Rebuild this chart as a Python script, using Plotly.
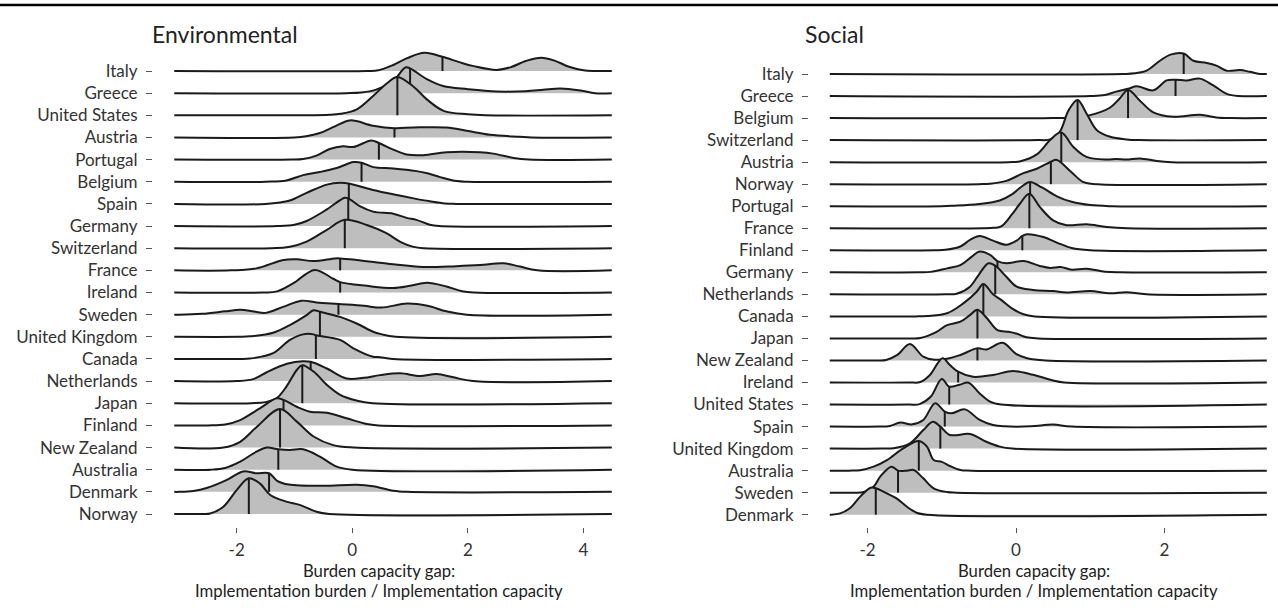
import numpy as np
import plotly.graph_objects as go

# Environmental panel, rows listed top to bottom
env_countries = ["Italy", "Greece", "United States", "Austria", "Portugal", "Belgium", "Spain",
                 "Germany", "Switzerland", "France", "Ireland", "Sweden", "United Kingdom", "Canada",
                 "Netherlands", "Japan", "Finland", "New Zealand", "Australia", "Denmark", "Norway"]
env_medians = [1.56, 1.0, 0.78, 0.73, 0.46, 0.16, -0.06, -0.07, -0.13, -0.21, -0.21, -0.24, -0.56,
               -0.63, -0.72, -0.865, -1.19, -1.25, -1.28, -1.44, -1.79]
env_span = [-3.08, 4.49]
# ridge knots (x, height in row units)
env_ridge_x = [
    [0.25, 0.45, 0.7, 0.95, 1.25, 1.56, 1.85, 2.1, 2.5, 2.75, 3.0, 3.27, 3.5, 3.75, 4.0, 4.2],
    [-0.1, 0.15, 0.4, 0.7, 0.92, 1.0, 1.29, 1.57, 2.0, 2.5, 3.0, 3.3, 3.6, 3.95, 4.2],
    [-0.7, -0.4, -0.2, 0.08, 0.36, 0.6, 0.78, 1.06, 1.29, 1.58, 2.0, 2.3],
    [-1.0, -0.8, -0.56, -0.3, -0.04, 0.36, 0.73, 1.06, 1.63, 1.98, 2.38, 2.9, 3.1],
    [-1.05, -0.85, -0.62, -0.39, -0.16, 0.02, 0.33, 0.46, 0.71, 0.94, 1.23, 1.63, 2.21, 2.44, 2.79, 3.05],
    [-1.5, -1.14, -0.85, -0.56, -0.27, 0.02, 0.16, 0.36, 0.71, 1.11, 1.3, 1.52, 1.81, 2.0],
    [-1.5, -1.08, -0.79, -0.44, -0.21, -0.06, 0.36, 0.77, 1.06, 1.34, 1.6, 1.8],
    [-1.3, -1.0, -0.79, -0.44, -0.13, -0.07, 0.13, 0.36, 0.71, 0.94, 1.11, 1.34, 1.5],
    [-1.4, -1.1, -0.79, -0.44, -0.13, 0.25, 0.59, 0.83, 1.06, 1.25],
    [-2.1, -1.66, -1.19, -0.96, -0.67, -0.3, -0.21, 0.075, 0.65, 1.23, 1.8, 2.21, 2.61, 2.9, 3.2],
    [-1.55, -1.3, -1.02, -0.65, -0.33, -0.21, 0.25, 0.71, 1.0, 1.29, 1.63, 1.9, 2.1],
    [-3.0, -2.6, -2.2, -1.94, -1.7, -1.5, -1.2, -0.88, -0.62, -0.24, 0.2, 0.5, 0.95, 1.3, 1.63, 1.98],
    [-1.95, -1.77, -1.37, -1.08, -0.79, -0.67, -0.56, -0.21, 0.075, 0.36, 0.5, 0.75],
    [-1.95, -1.77, -1.37, -1.08, -0.85, -0.67, -0.63, -0.21, 0.02, 0.36, 0.48, 0.7],
    [-2.0, -1.7, -1.48, -1.13, -0.86, -0.72, -0.44, -0.1, 0.2, 0.48, 0.83, 1.17, 1.46, 1.75, 2.09],
    [-1.75, -1.5, -1.3, -1.14, -0.96, -0.865, -0.67, -0.44, -0.21, 0.075, 0.35],
    [-2.5, -2.2, -1.94, -1.6, -1.31, -1.19, -0.96, -0.73, -0.44, -0.1, 0.25, 0.45],
    [-2.23, -1.94, -1.65, -1.25, -0.96, -0.67, -0.33, 0.02],
    [-2.45, -2.2, -1.94, -1.7, -1.48, -1.28, -1.08, -0.85, -0.56, -0.27, 0.0],
    [-3.0, -2.75, -2.52, -2.17, -1.89, -1.66, -1.44, -1.3, -1.1, -0.5, 0.075, 0.36, 0.71, 0.95],
    [-2.6, -2.46, -2.23, -2.0, -1.79, -1.6, -1.42, -1.14, -0.91, -0.62, -0.4],
]
env_ridge_h = [
    [0, 0.03, 0.26, 0.58, 0.82, 0.64, 0.4, 0.22, 0.05, 0.18, 0.45, 0.6, 0.47, 0.19, 0.03, 0],
    [0, 0.03, 0.15, 0.53, 1.16, 1.12, 0.63, 0.32, 0.18, 0.075, 0.09, 0.15, 0.21, 0.12, 0],
    [0, 0.02, 0.07, 0.27, 0.87, 1.45, 1.73, 1.29, 0.72, 0.2, 0.045, 0],
    [0, 0.05, 0.2, 0.5, 0.77, 0.53, 0.42, 0.45, 0.45, 0.3, 0.12, 0.03, 0],
    [0, 0.03, 0.18, 0.48, 0.6, 0.57, 0.86, 0.75, 0.45, 0.23, 0.2, 0.33, 0.33, 0.27, 0.075, 0],
    [0, 0.06, 0.3, 0.44, 0.62, 0.89, 0.86, 0.66, 0.6, 0.48, 0.38, 0.21, 0.03, 0],
    [0, 0.15, 0.5, 0.87, 0.95, 0.92, 0.63, 0.4, 0.25, 0.12, 0.02, 0],
    [0, 0.06, 0.23, 0.75, 1.28, 1.25, 0.9, 0.65, 0.56, 0.37, 0.28, 0.06, 0],
    [0, 0.05, 0.3, 0.83, 1.28, 1.05, 0.68, 0.29, 0.06, 0],
    [0, 0.09, 0.47, 0.5, 0.42, 0.54, 0.54, 0.47, 0.29, 0.15, 0.19, 0.24, 0.32, 0.17, 0],
    [0, 0.05, 0.42, 1.02, 0.62, 0.47, 0.3, 0.2, 0.3, 0.44, 0.27, 0.06, 0],
    [0, 0.04, 0.15, 0.22, 0.14, 0.08, 0.35, 0.63, 0.55, 0.48, 0.4, 0.32, 0.5, 0.4, 0.15, 0],
    [0, 0.02, 0.18, 0.53, 0.98, 1.2, 1.13, 0.9, 0.6, 0.23, 0.12, 0],
    [0, 0.02, 0.26, 0.86, 1.11, 1.11, 1.07, 0.86, 0.48, 0.1, 0.08, 0],
    [0, 0.1, 0.4, 0.78, 0.9, 0.87, 0.57, 0.12, 0.15, 0.27, 0.35, 0.23, 0.32, 0.17, 0],
    [0, 0.05, 0.25, 0.75, 1.5, 1.72, 1.43, 0.83, 0.38, 0.12, 0],
    [0, 0.04, 0.24, 0.77, 1.22, 1.15, 0.84, 0.62, 0.57, 0.32, 0.06, 0],
    [0, 0.26, 0.94, 1.74, 1.17, 0.5, 0.11, 0],
    [0, 0.08, 0.36, 0.75, 1.0, 0.92, 0.89, 0.92, 0.59, 0.14, 0],
    [0, 0.04, 0.17, 0.54, 0.92, 0.84, 0.84, 0.5, 0.33, 0.27, 0.32, 0.25, 0.05, 0],
    [0, 0.02, 0.33, 1.08, 1.61, 1.38, 0.86, 0.56, 0.41, 0.1, 0],
]
env_ticks = [-2, 0, 2, 4]

# Social panel, rows listed top to bottom
soc_countries = ["Italy", "Greece", "Belgium", "Switzerland", "Austria", "Norway", "Portugal",
                 "France", "Finland", "Germany", "Netherlands", "Canada", "Japan", "New Zealand",
                 "Ireland", "United States", "Spain", "United Kingdom", "Australia", "Sweden", "Denmark"]
soc_medians = [2.26, 2.15, 1.51, 0.83, 0.61, 0.47, 0.19, 0.18, 0.085, -0.25, -0.28, -0.44, -0.52,
               -0.52, -0.78, -0.9, -0.96, -1.02, -1.31, -1.59, -1.89]
soc_span = [-2.51, 3.38]
soc_ridge_x = [
    [1.45, 1.6, 1.76, 1.94, 2.08, 2.26, 2.39, 2.57, 2.7, 2.84, 3.02, 3.15, 3.3],
    [1.0, 1.2, 1.35, 1.51, 1.63, 1.85, 2.03, 2.15, 2.3, 2.48, 2.66, 2.84, 3.0],
    [0.5, 0.75, 0.97, 1.27, 1.4, 1.51, 1.67, 1.85, 2.12, 2.48, 2.7, 2.9],
    [0.3, 0.46, 0.59, 0.71, 0.83, 0.95, 1.09, 1.27, 1.49, 1.65],
    [-0.1, 0.05, 0.28, 0.46, 0.61, 0.77, 0.95, 1.22, 1.35, 1.49, 1.67, 1.9, 2.1],
    [-0.5, -0.35, -0.13, 0.1, 0.28, 0.47, 0.55, 0.73, 0.91, 1.1],
    [-1.0, -0.85, -0.5, -0.22, -0.05, 0.1, 0.19, 0.35, 0.55, 0.75, 1.0, 1.3],
    [-0.45, -0.3, -0.2, -0.05, 0.05, 0.18, 0.32, 0.5, 0.68, 0.95, 1.22, 1.5],
    [-1.1, -0.95, -0.75, -0.62, -0.49, -0.31, -0.13, 0.01, 0.085, 0.15, 0.37, 0.55, 0.75, 1.0],
    [-1.3, -1.15, -0.93, -0.75, -0.6, -0.49, -0.35, -0.25, -0.13, 0.1, 0.32, 0.46, 0.6, 0.75, 0.95, 1.2, 1.4],
    [-0.95, -0.8, -0.62, -0.5, -0.37, -0.28, -0.13, 0.01, 0.23, 0.5, 0.68, 1.0, 1.27, 1.49, 1.76],
    [-1.35, -1.2, -0.93, -0.71, -0.53, -0.44, -0.31, -0.2, -0.05, 0.1, 0.25],
    [-1.45, -1.29, -1.07, -0.93, -0.75, -0.62, -0.52, -0.4, -0.25, -0.1, 0.0, 0.14, 0.3],
    [-1.9, -1.75, -1.6, -1.43, -1.25, -1.1, -0.9, -0.75, -0.52, -0.4, -0.18, 0.0, 0.15, 0.4],
    [-1.45, -1.29, -1.16, -0.99, -0.89, -0.78, -0.58, -0.31, -0.04, 0.23, 0.5, 0.65],
    [-1.45, -1.3, -1.15, -1.0, -0.9, -0.76, -0.64, -0.49, -0.35, -0.2],
    [-1.85, -1.7, -1.56, -1.4, -1.25, -1.09, -0.96, -0.87, -0.69, -0.49, -0.31, -0.15, 0.2, 0.5, 0.75],
    [-1.8, -1.65, -1.43, -1.25, -1.12, -1.02, -0.89, -0.62, -0.4, -0.22, -0.05],
    [-2.25, -2.1, -1.92, -1.74, -1.52, -1.31, -1.2, -1.11, -1.0, -0.89, -0.75, -0.6],
    [-2.2, -2.05, -1.92, -1.83, -1.68, -1.59, -1.47, -1.38, -1.25, -1.11, -0.93, -0.8],
    [-2.5, -2.37, -2.24, -2.1, -1.96, -1.89, -1.74, -1.61, -1.47, -1.34, -1.2],
]
soc_ridge_h = [
    [0, 0.03, 0.15, 0.6, 0.88, 0.93, 0.6, 0.5, 0.38, 0.15, 0.18, 0.1, 0],
    [0, 0.05, 0.2, 0.33, 0.44, 0.26, 0.71, 0.74, 0.71, 0.79, 0.48, 0.1, 0],
    [0, 0.03, 0.11, 0.48, 0.9, 1.27, 0.79, 0.26, 0.06, 0.15, 0.03, 0],
    [0, 0.03, 0.38, 1.36, 1.82, 1.21, 0.45, 0.15, 0.03, 0],
    [0, 0.03, 0.35, 1.0, 1.35, 0.7, 0.24, 0.12, 0.14, 0.12, 0.17, 0.05, 0],
    [0, 0.02, 0.15, 0.5, 0.7, 1.02, 1.1, 0.6, 0.09, 0],
    [0, 0.02, 0.1, 0.26, 0.55, 0.95, 1.1, 0.85, 0.45, 0.2, 0.05, 0],
    [0, 0.02, 0.08, 0.65, 1.1, 1.57, 0.97, 0.36, 0.14, 0.18, 0.06, 0],
    [0, 0.02, 0.17, 0.47, 0.65, 0.44, 0.25, 0.44, 0.65, 0.73, 0.6, 0.35, 0.1, 0],
    [0, 0.02, 0.18, 0.33, 0.7, 0.94, 0.79, 0.51, 0.41, 0.51, 0.29, 0.2, 0.24, 0.12, 0.16, 0.03, 0],
    [0, 0.03, 0.35, 0.9, 1.41, 1.3, 0.8, 0.35, 0.2, 0.15, 0.08, 0.15, 0.05, 0.1, 0],
    [0, 0.02, 0.14, 0.59, 1.12, 1.47, 1.0, 0.75, 0.35, 0.1, 0],
    [0, 0.02, 0.3, 0.6, 0.76, 1.06, 1.3, 0.95, 0.38, 0.3, 0.22, 0.05, 0],
    [0, 0.02, 0.25, 0.75, 0.17, 0.03, 0.1, 0.25, 0.55, 0.5, 0.8, 0.3, 0.1, 0],
    [0, 0.02, 0.34, 1.1, 0.79, 0.49, 0.26, 0.34, 0.52, 0.35, 0.09, 0],
    [0, 0.02, 0.35, 1.16, 0.81, 0.9, 0.99, 0.5, 0.13, 0],
    [0, 0.03, 0.18, 0.1, 0.3, 1.06, 0.68, 0.6, 0.78, 0.3, 0.07, 0.01, 0.01, 0.09, 0],
    [0, 0.02, 0.24, 0.84, 1.22, 1.0, 0.62, 0.66, 0.31, 0.09, 0],
    [0, 0.02, 0.18, 0.48, 1.01, 1.34, 1.09, 0.48, 0.4, 0.21, 0.03, 0],
    [0, 0.03, 0.27, 0.73, 1.18, 1.0, 1.0, 1.03, 0.65, 0.2, 0.03, 0],
    [0, 0.06, 0.29, 0.82, 1.22, 1.2, 0.97, 0.74, 0.36, 0.09, 0],
]
soc_ticks = [-2, 0, 2]

LINE = "#1a1a1a"
FILL = "#bebebe"
FONT = "Lato"

fig = go.Figure()


def add_ridges(countries, medians, rx, rh, span, xa, ya):
    n = len(countries)
    for i in range(n):
        base = n - 1 - i
        xs = [span[0]] + rx[i] + [span[1]]
        hs = [0] + rh[i] + [0]
        # invisible baseline so the ridge can fill down to it
        fig.add_trace(go.Scatter(x=span, y=[base, base], mode="lines", line=dict(width=0),
                                 xaxis=xa, yaxis=ya, hoverinfo="skip", showlegend=False))
        fig.add_trace(go.Scatter(x=xs, y=[base + h for h in hs], mode="lines",
                                 line=dict(color=LINE, width=2, shape="spline", smoothing=1),
                                 fill="tonexty", fillcolor=FILL,
                                 xaxis=xa, yaxis=ya, hoverinfo="skip", showlegend=False))
        hm = float(np.interp(medians[i], xs, hs))
        fig.add_trace(go.Scatter(x=[medians[i], medians[i]], y=[base, base + hm], mode="lines",
                                 line=dict(color=LINE, width=2),
                                 xaxis=xa, yaxis=ya, hoverinfo="skip", showlegend=False))


add_ridges(env_countries, env_medians, env_ridge_x, env_ridge_h, env_span, "x", "y")
add_ridges(soc_countries, soc_medians, soc_ridge_x, soc_ridge_h, soc_span, "x2", "y2")

W, H = 1278, 613
ydom = [(H - 527) / H, (H - 45) / H]
tickfont = dict(family=FONT, size=17, color="#333333")

xcommon = dict(showgrid=False, zeroline=False, showline=False, ticks="outside", ticklen=5,
               tickwidth=1, tickcolor="#555555", tickfont=tickfont, ticklabelstandoff=3)
ycommon = dict(showgrid=False, zeroline=False, showline=False, ticks="outside", ticklen=6,
               tickwidth=1, tickcolor="#555555", tickfont=tickfont, ticklabelstandoff=5)

n_env = len(env_countries)
n_soc = len(soc_countries)

fig.update_layout(
    width=W, height=H,
    margin=dict(l=0, r=0, t=0, b=0),
    paper_bgcolor="white", plot_bgcolor="white",
    xaxis=dict(domain=[153 / W, 631 / W], range=[-3.448, 4.822], tickmode="array",
               tickvals=env_ticks, ticktext=[str(t) for t in env_ticks], anchor="y", **xcommon),
    yaxis=dict(domain=ydom, range=[-0.587, 21.174], tickmode="array",
               tickvals=[n_env - 1 - i for i in range(n_env)], ticktext=env_countries,
               anchor="x", **ycommon),
    xaxis2=dict(domain=[809 / W, 1.0], range=[-2.79, 3.531], tickmode="array",
                tickvals=soc_ticks, ticktext=[str(t) for t in soc_ticks], anchor="y2", **xcommon),
    yaxis2=dict(domain=ydom, range=[-0.558, 21.316], tickmode="array",
                tickvals=[n_soc - 1 - i for i in range(n_soc)], ticktext=soc_countries,
                anchor="x2", **ycommon),
    showlegend=False,
)

# panel titles
for label, left in (("Environmental", 150), ("Social", 803)):
    fig.add_annotation(text=label, xref="paper", yref="paper", x=left / W, y=(H - 34) / H,
                       xanchor="left", yanchor="middle", showarrow=False,
                       font=dict(family=FONT, size=23, color="#222222"))

# x axis titles, one line each
for cx in (379, 1034):
    fig.add_annotation(text="Burden capacity gap:", xref="paper", yref="paper", x=cx / W,
                       y=(H - 571) / H, xanchor="center", yanchor="middle", showarrow=False,
                       font=dict(family=FONT, size=16.7, color="#222222"))
    fig.add_annotation(text="Implementation burden / Implementation capacity", xref="paper",
                       yref="paper", x=cx / W, y=(H - 591) / H, xanchor="center",
                       yanchor="middle", showarrow=False,
                       font=dict(family=FONT, size=16.7, color="#222222"))

# dark rule across the top
fig.add_shape(type="line", xref="paper", yref="paper", x0=0, x1=1, y0=(H - 5) / H, y1=(H - 5) / H,
              line=dict(color="black", width=2.5))

fig.write_html("out.html", config={"displayModeBar": False},
               post_script="document.body.style.margin='0';")
